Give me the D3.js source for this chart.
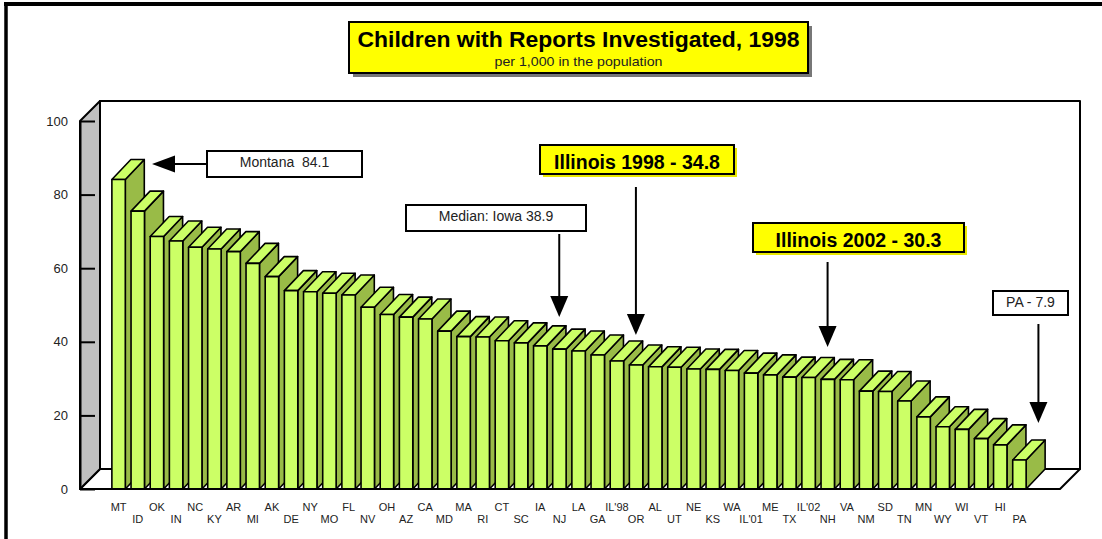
<!DOCTYPE html>
<html>
<head>
<meta charset="utf-8">
<script src="https://cdn.jsdelivr.net/npm/d3@7"></script>
<style>
    body { margin: 0; background: #fff; }
    svg { display: block; font-family: "Liberation Sans", Arial, sans-serif; }
</style>
</head>
<body>
<svg id="reports" width="1102" height="539"></svg>
<script>
(function () {
    'use strict';

    var states = ["MT", "ID", "OK", "IN", "NC", "KY", "AR", "MI", "AK", "DE", "NY", "MO",
        "FL", "NV", "OH", "AZ", "CA", "MD", "MA", "RI", "CT", "SC", "IA", "NJ",
        "LA", "GA", "IL'98", "OR", "AL", "UT", "NE", "KS", "WA", "IL'01", "ME", "TX",
        "IL'02", "NH", "VA", "NM", "SD", "TN", "MN", "WY", "WI", "VT", "HI", "PA"];
    var rates = [84.1, 75.5, 68.6, 67.4, 65.7, 65.2, 64.5, 61.3, 57.7, 53.9, 53.6, 53.2,
        52.7, 49.4, 47.4, 46.7, 46.2, 42.9, 41.4, 41.3, 40.3, 39.7, 38.9, 38.0,
        37.5, 36.4, 34.8, 33.7, 33.2, 33.1, 32.6, 32.5, 32.2, 31.5, 31.0, 30.4,
        30.3, 29.8, 29.7, 26.6, 26.5, 23.9, 19.6, 16.9, 16.2, 13.7, 12.0, 7.9];
    var yTicks = [0, 20, 40, 60, 80, 100];
    var titleText = "Children with Reports Investigated, 1998";
    var subtitleText = "per 1,000 in the population";
    var calloutStates = ["MT", "IA", "IL'98", "IL'02", "PA"];
    var calloutTexts = ["Montana  84.1", "Median: Iowa 38.9", "Illinois 1998 - 34.8",
        "Illinois 2002 - 30.3", "PA - 7.9"];

    var vm = {};
    vm.front = "#ccff66";
    vm.side = "#99bb47";
    vm.depth = {dx: 19, dy: -20};
    vm.wall = {dx: 20, dy: -20};

    drawGraph();

    function drawGraph() {
        vm.data = states.map(function (s, i) {
            return {state: s, rate: rates[i]};
        });
        createSvg();
        setUpScales();
        drawFrame();
        drawWalls();
        drawAxis();
        drawBars();
        drawLabels();
        drawTitle();
        drawCallouts();
    }

    function createSvg() {
        vm.svg = d3.select("svg#reports");
        vm.plot = {left: 80, right: 1060, top: 121, bottom: 489};
    }

    function setUpScales() {
        vm.x = d3.scaleBand()
            .domain(states)
            .range([109, 1029])
            .paddingInner(0.3)
            .paddingOuter(0.15);
        vm.y = d3.scaleLinear()
            .domain([0, 100])
            .range([vm.plot.bottom, vm.plot.top]);
    }

    function drawFrame() {
        vm.svg.append("line")
            .attr("x1", 4).attr("x2", 1102)
            .attr("y1", 4).attr("y2", 4)
            .attr("stroke", "#000").attr("stroke-width", 4);
        vm.svg.append("line")
            .attr("x1", 6).attr("x2", 6)
            .attr("y1", 2).attr("y2", 539)
            .attr("stroke", "#000").attr("stroke-width", 3.5);
    }

    function drawWalls() {
        var p = vm.plot, w = vm.wall;
        var g = vm.svg.append("g")
            .attr("stroke", "#000")
            .attr("stroke-width", 2)
            .attr("stroke-linejoin", "round");

        // back wall
        g.append("path")
            .attr("fill", "#fff")
            .attr("d", "M" + (p.left + w.dx) + "," + (p.bottom + w.dy) +
                "V" + (p.top + w.dy) + "H" + (p.right + w.dx) + "V" + (p.bottom + w.dy) + "Z");

        // floor
        g.append("path")
            .attr("fill", "#fff")
            .attr("d", "M" + p.left + "," + p.bottom + "H" + p.right +
                "L" + (p.right + w.dx) + "," + (p.bottom + w.dy) +
                "H" + (p.left + w.dx) + "Z");

        // side wall
        g.append("path")
            .attr("fill", "#c0c0c0")
            .attr("d", "M" + p.left + "," + p.bottom + "V" + p.top +
                "L" + (p.left + w.dx) + "," + (p.top + w.dy) +
                "V" + (p.bottom + w.dy) + "Z");
    }

    function drawAxis() {
        var axis = vm.svg.append("g")
            .attr("class", "axis axis--y")
            .attr("transform", "translate(" + vm.plot.left + ",0)")
            .call(d3.axisLeft(vm.y)
                .tickValues(yTicks)
                .tickSizeInner(-15)
                .tickSizeOuter(0)
                .tickPadding(12));

        axis.select(".domain").attr("stroke-width", 2);
        axis.selectAll(".tick line").attr("stroke-width", 2);
        axis.selectAll(".tick text")
            .attr("fill", "#222")
            .style("font", "13px 'Liberation Sans', Arial, sans-serif");
    }

    function drawBars() {
        var d = vm.depth, bw = vm.x.bandwidth(), base = vm.y(0);

        var bars = vm.svg.append("g")
            .attr("stroke", "#000")
            .attr("stroke-width", 1.6)
            .attr("stroke-linejoin", "round")
            .selectAll(".bar")
            .data(vm.data)
            .enter().append("g")
            .attr("class", "bar");

        bars.append("path")
            .attr("fill", vm.side)
            .attr("d", function (r) {
                var x1 = vm.x(r.state) + bw, top = vm.y(r.rate);
                return "M" + x1 + "," + base + "L" + (x1 + d.dx) + "," + (base + d.dy) +
                    "V" + (top + d.dy) + "L" + x1 + "," + top + "Z";
            });

        bars.append("path")
            .attr("fill", vm.front)
            .attr("d", function (r) {
                var x0 = vm.x(r.state), top = vm.y(r.rate);
                return "M" + x0 + "," + top + "L" + (x0 + d.dx) + "," + (top + d.dy) +
                    "H" + (x0 + bw + d.dx) + "L" + (x0 + bw) + "," + top + "Z";
            });

        bars.append("rect")
            .attr("fill", vm.front)
            .attr("x", function (r) { return vm.x(r.state); })
            .attr("y", function (r) { return vm.y(r.rate); })
            .attr("width", bw)
            .attr("height", function (r) { return base - vm.y(r.rate); });

        vm.svg.append("line")
            .attr("x1", vm.plot.left).attr("x2", vm.plot.right)
            .attr("y1", base).attr("y2", base)
            .attr("stroke", "#000").attr("stroke-width", 2);
    }

    function drawLabels() {
        var axis = vm.svg.append("g")
            .attr("class", "axis axis--x")
            .attr("transform", "translate(0," + vm.plot.bottom + ")")
            .call(d3.axisBottom(vm.x).tickSize(0));

        axis.select(".domain").remove();
        axis.selectAll(".tick text")
            .attr("fill", "#222")
            .attr("y", function (s, i) { return i % 2 ? 26.5 : 14; })
            .style("font", "11px 'Liberation Sans', Arial, sans-serif");
    }

    function drawTitle() {
        var g = vm.svg.append("g");
        g.append("rect")
            .attr("x", 353).attr("y", 26)
            .attr("width", 459).attr("height", 51)
            .attr("fill", "#777");
        g.append("rect")
            .attr("x", 349).attr("y", 22)
            .attr("width", 459).attr("height", 51)
            .attr("fill", "#ffff00")
            .attr("stroke", "#000").attr("stroke-width", 2);
        g.append("text")
            .attr("x", 578.5).attr("y", 47)
            .attr("text-anchor", "middle")
            .attr("textLength", 442)
            .attr("lengthAdjust", "spacingAndGlyphs")
            .style("font", "bold 22px 'Liberation Sans', Arial, sans-serif")
            .text(titleText);
        g.append("text")
            .attr("x", 578.5).attr("y", 66)
            .attr("text-anchor", "middle")
            .attr("fill", "#222")
            .attr("textLength", 168)
            .attr("lengthAdjust", "spacingAndGlyphs")
            .style("font", "13px 'Liberation Sans', Arial, sans-serif")
            .text(subtitleText);
    }

    function drawCallouts() {
        var bw = vm.x.bandwidth();
        var boxes = [
            {x: 207, y: 151, w: 155, h: 26, base: 167, bold: false, tip: 152, tail: 207, head: 164},
            {x: 406, y: 205, w: 180, h: 26, base: 221, bold: false, tip: 317, tail: 234},
            {x: 540, y: 145, w: 194, h: 29, base: 169, bold: true, tip: 335, tail: 187},
            {x: 753, y: 223, w: 211, h: 29, base: 247, bold: true, tip: 347, tail: 262},
            {x: 993, y: 291, w: 75, h: 24, base: 307, bold: false, tip: 423, tail: 324}
        ];

        var g = vm.svg.append("g");

        boxes.forEach(function (b, i) {
            if (b.bold) {
                g.append("rect")
                    .attr("x", b.x + 3).attr("y", b.y + 3)
                    .attr("width", b.w).attr("height", b.h)
                    .attr("fill", "#e8e800");
            }
            g.append("rect")
                .attr("x", b.x).attr("y", b.y)
                .attr("width", b.w).attr("height", b.h)
                .attr("fill", b.bold ? "#ffff00" : "#fff")
                .attr("stroke", "#000").attr("stroke-width", 2);
            g.append("text")
                .attr("x", b.x + b.w / 2).attr("y", b.base)
                .attr("text-anchor", "middle")
                .attr("fill", b.bold ? "#000" : "#222")
                .style("font", b.bold ? "bold 19.5px 'Liberation Sans', Arial, sans-serif"
                    : "14px 'Liberation Sans', Arial, sans-serif")
                .style("white-space", "pre")
                .text(calloutTexts[i]);

            if (b.head !== undefined) {
                // horizontal arrow pointing left
                g.append("line")
                    .attr("x1", b.tail).attr("x2", b.tip + 20)
                    .attr("y1", b.head).attr("y2", b.head)
                    .attr("stroke", "#000").attr("stroke-width", 2);
                g.append("path")
                    .attr("d", "M" + b.tip + "," + b.head + "L" + (b.tip + 23) + "," + (b.head - 8.5) +
                        "V" + (b.head + 8.5) + "Z");
            } else {
                var ax = vm.x(calloutStates[i]) + bw / 2 + vm.depth.dx;
                g.append("line")
                    .attr("x1", ax).attr("x2", ax)
                    .attr("y1", b.tail).attr("y2", b.tip - 18)
                    .attr("stroke", "#000").attr("stroke-width", 2);
                g.append("path")
                    .attr("d", "M" + ax + "," + b.tip + "L" + (ax - 9) + "," + (b.tip - 21) +
                        "H" + (ax + 9) + "Z");
            }
        });
    }

})();
</script>
</body>
</html>
